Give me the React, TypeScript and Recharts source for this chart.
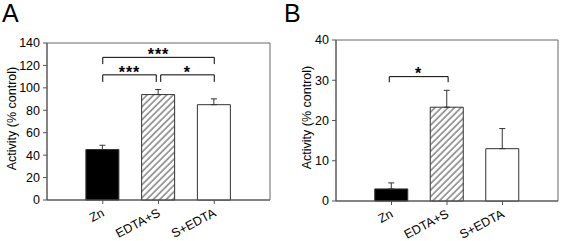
import React from 'react';
import {
  BarChart,
  Bar,
  XAxis,
  YAxis,
  Cell,
  ErrorBar,
  ReferenceLine,
  ReferenceArea,
} from 'recharts';

// ---- data ----
const categories = ['Zn', 'EDTA+S', 'S+EDTA'];
const positions = [1, 2, 3];
const activityA = [45, 94, 85];
const errorA = [3.8, 4.5, 5.2];
const activityB = [3, 23.3, 13];
const errorB = [1.5, 4.2, 5];
const ticksA = [0, 20, 40, 60, 80, 100, 120, 140];
const ticksB = [0, 10, 20, 30, 40];

// significance brackets (data units)
const bracketsA = [
  { from: 1, to: 1.96, y: 111.6, drop: 105.3, label: '***' },
  { from: 2.04, to: 3, y: 111.6, drop: 105.3, label: '*' },
  { from: 1, to: 3, y: 127.2, drop: 121.2, label: '***' },
];
const bracketsB = [{ from: 0.96, to: 2.02, y: 30.9, drop: 29.5, label: '*' }];

const FONT = '"Liberation Sans", Arial, Helvetica, sans-serif';
const fills = ['#000000', 'url(#hatch)', '#ffffff'];
const AXIS = '#555555';
const TICK_ANGLE = -28;

const build = (vals: number[], errs: number[]) =>
  positions.map((x, i) => ({ x, name: categories[i], v: vals[i], err: [0, errs[i]] }));

const dataA = build(activityA, errorA);
const dataB = build(activityB, errorB);

const starLabel = (text: string) => (props: any) => {
  const vb = props.viewBox || {};
  const cx = (vb.x ?? 0) + (vb.width ?? 0) / 2;
  const cy = (vb.y ?? 0) + 2.8;
  return (
    <text
      x={cx}
      y={cy}
      textAnchor="middle"
      fontFamily={FONT}
      fontSize={16}
      fontWeight="bold"
      letterSpacing={1}
      fill="#000"
    >
      {text}
    </text>
  );
};

const yLabel = (dx: number) => (props: any) => {
  const vb = props.viewBox || {};
  const cx = (vb.x ?? 0) + dx;
  const cy = (vb.y ?? 0) + (vb.height ?? 0) / 2 - 3;
  return (
    <text
      x={cx}
      y={cy}
      transform={`rotate(-90, ${cx}, ${cy})`}
      textAnchor="middle"
      dominantBaseline="central"
      fontFamily={FONT}
      fontSize={12.5}
      fill="#000"
    >
      Activity (% control)
    </text>
  );
};

const renderXTick = (props: any) => {
  const { x, y, payload } = props;
  const label = categories[Math.round(payload.value) - 1] ?? '';
  const tx = x + 2.5;
  const ty = y + 6.5;
  return (
    <text
      key={`t${payload.value}`}
      x={tx}
      y={ty}
      transform={`rotate(${TICK_ANGLE} ${tx} ${ty})`}
      style={{ transform: `rotate(${TICK_ANGLE}deg)`, transformOrigin: `${tx}px ${ty}px` }}
      textAnchor="end"
      fontFamily={FONT}
      fontSize={12.5}
      fill="#000"
    >
      {label}
    </text>
  );
};

const renderBrackets = (list: typeof bracketsA) =>
  list.flatMap((b, i) => [
    <ReferenceLine
      key={`l${i}`}
      segment={[{ x: b.from, y: b.drop }, { x: b.from, y: b.y }]}
      stroke="#000"
      strokeWidth={1}
      ifOverflow="visible"
    />,
    <ReferenceLine
      key={`r${i}`}
      segment={[{ x: b.to, y: b.drop }, { x: b.to, y: b.y }]}
      stroke="#000"
      strokeWidth={1}
      ifOverflow="visible"
    />,
    <ReferenceLine
      key={`h${i}`}
      segment={[{ x: b.from, y: b.y }, { x: b.to, y: b.y }]}
      stroke="#000"
      strokeWidth={1}
      ifOverflow="visible"
      label={starLabel(b.label)}
    />,
  ]);

type PanelProps = {
  data: any[];
  ticks: number[];
  max: number;
  brackets: typeof bracketsA;
  margin: { top: number; right: number; bottom: number; left: number };
  yWidth: number;
  xHeight: number;
  labelDx: number;
};

const Panel = ({ data, ticks, max, brackets, margin, yWidth, xHeight, labelDx }: PanelProps) => (
  <BarChart width={281} height={241} data={data} margin={margin}>
    <ReferenceArea
      x1={0}
      x2={4}
      y1={0}
      y2={max}
      fill="none"
      stroke="#666"
      strokeWidth={1}
      ifOverflow="visible"
    />
    <XAxis
      type="number"
      dataKey="x"
      domain={[0, 4]}
      ticks={positions}
      interval={0}
      allowDataOverflow
      height={xHeight}
      tickSize={4}
      tickMargin={5}
      stroke={AXIS}
      tickLine={{ stroke: AXIS }}
      tick={renderXTick}
    />
    <YAxis
      type="number"
      domain={[0, max]}
      ticks={ticks}
      interval={0}
      width={yWidth}
      tickSize={4}
      tickMargin={3}
      stroke={AXIS}
      tickLine={{ stroke: AXIS }}
      tick={{ fontSize: 12.5, fill: '#000', fontFamily: FONT }}
      label={yLabel(labelDx)}
    />
    <Bar dataKey="v" barSize={33} isAnimationActive={false} stroke="#333" strokeWidth={1}>
      {data.map((_, i) => (
        <Cell key={i} fill={fills[i]} />
      ))}
      <ErrorBar dataKey="err" width={3} stroke="#333" strokeWidth={1} direction="y" />
    </Bar>
    {renderBrackets(brackets)}
  </BarChart>
);

export default function App() {
  return (
    <div
      style={{
        position: 'absolute',
        left: 0,
        top: 0,
        width: 562,
        height: 241,
        background: '#fff',
        fontFamily: FONT,
        overflow: 'hidden',
      }}
    >
      <svg width={0} height={0} style={{ position: 'absolute' }}>
        <defs>
          <pattern
            id="hatch"
            patternUnits="userSpaceOnUse"
            width={4.6}
            height={4.6}
            patternTransform="rotate(45)"
          >
            <rect width={4.6} height={4.6} fill="#fff" />
            <line x1={1} y1={0} x2={1} y2={4.6} stroke="#555" strokeWidth={1.1} />
          </pattern>
        </defs>
      </svg>
      <div style={{ position: 'absolute', left: 0, top: 0 }}>
        <Panel
          data={dataA}
          ticks={ticksA}
          max={140}
          brackets={bracketsA}
          margin={{ top: 43, right: 11, bottom: 0, left: 0 }}
          yWidth={47}
          xHeight={41}
          labelDx={12}
        />
      </div>
      <div style={{ position: 'absolute', left: 281, top: 0 }}>
        <Panel
          data={dataB}
          ticks={ticksB}
          max={40}
          brackets={bracketsB}
          margin={{ top: 40, right: 4, bottom: 0, left: 0 }}
          yWidth={55}
          xHeight={40}
          labelDx={25.5}
        />
      </div>
      <div style={{ position: 'absolute', left: 2, top: 1, fontSize: 25, lineHeight: 1, fontFamily: FONT, color: '#000' }}>A</div>
      <div style={{ position: 'absolute', left: 284, top: 1, fontSize: 25, lineHeight: 1, fontFamily: FONT, color: '#000' }}>B</div>
    </div>
  );
}
